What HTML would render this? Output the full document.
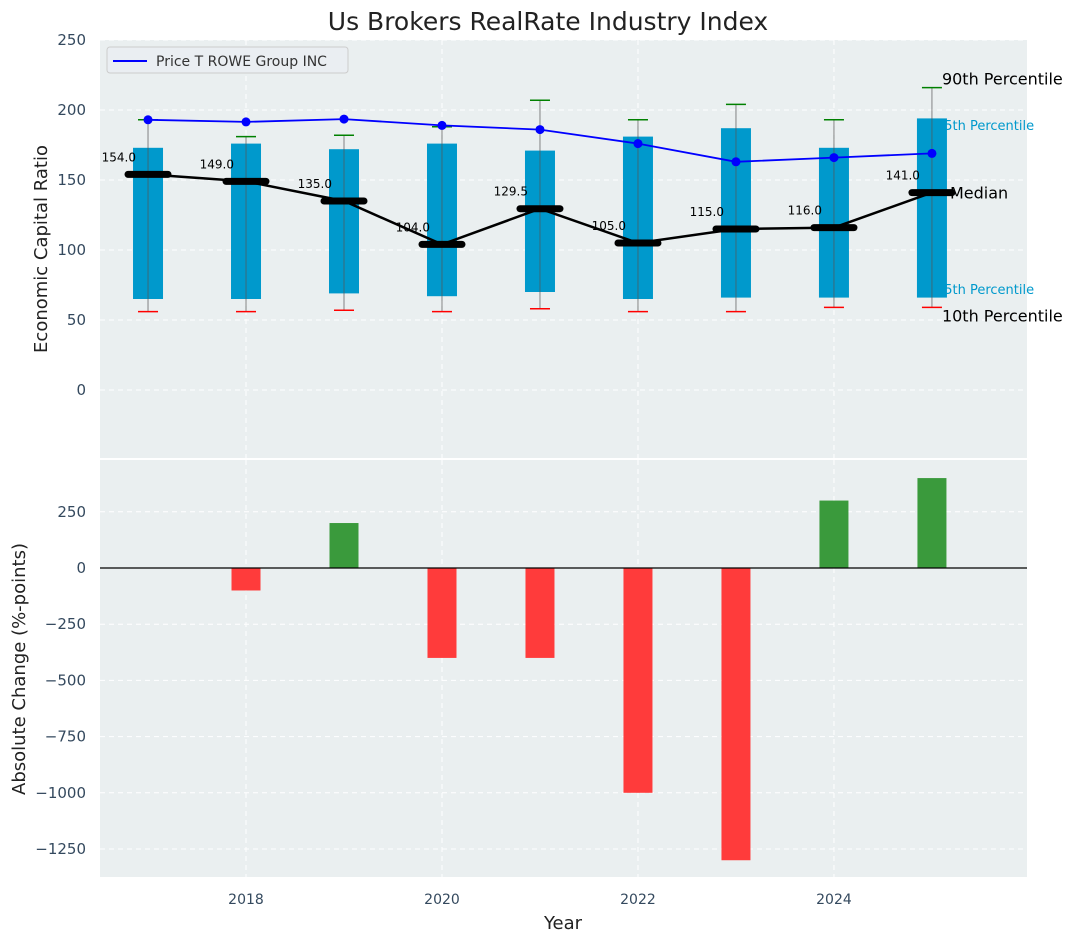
<!DOCTYPE html>
<html><head><meta charset="utf-8"><style>
body{margin:0;background:#fff;}
svg{display:block;font-family:"DejaVu Sans","Liberation Sans",sans-serif;}
</style></head><body>
<svg id="c" width="1077" height="942" viewBox="0 0 1077 942"></svg>
<script>
const years=[2017,2018,2019,2020,2021,2022,2023,2024,2025];
const p90=[193,181,182,188,207,193,204,193,216];
const p75=[173,176,172,176,171,181,187,173,194];
const medians=[154.0,149.0,135.0,104.0,129.5,105.0,115.0,116.0,141.0];
const p25=[65,65,69,67,70,65,66,66,66];
const p10=[56,56,57,56,58,56,56,59,59];
const company=[193,191.5,193.5,189,186,176,163,166,169];
const changes=[0,-100,200,-400,-400,-1000,-1300,300,400];
const topTicks=[0,50,100,150,200,250];
const botTicks=[-1250,-1000,-750,-500,-250,0,250];
const xTicks=[2018,2020,2022,2024];

const NS='http://www.w3.org/2000/svg';
const svg=document.getElementById('c');
function el(t,a,p){const e=document.createElementNS(NS,t);for(const k in a)e.setAttribute(k,a[k]);(p||svg).appendChild(e);return e;}
const L=100,R=1027;
const X=v=>L+(v-2016.51)/(2025.97-2016.51)*(R-L);
const Y1=v=>390-v*1.4;
const Y2=v=>568-v*0.2248;
const T1=40,B1=458,T2=460,B2=877;

let t=el('text',{x:548,y:30,'text-anchor':'middle','font-size':25,fill:'#222'});t.textContent='Us Brokers RealRate Industry Index';


let bg=el('rect',{x:L,y:T1,width:R-L,height:B1-T1,fill:'#eaeff0'});

let bg2=el('rect',{x:L,y:T2,width:R-L,height:B2-T2,fill:'#eaeff0'});


xTicks.forEach(v=>{
  let g=el('line',{x1:X(v),x2:X(v),y1:T1,y2:B1,stroke:'#fff','stroke-dasharray':'5,4','stroke-width':1});
  
  let g2=el('line',{x1:X(v),x2:X(v),y1:T2,y2:B2,stroke:'#fff','stroke-dasharray':'5,4','stroke-width':1});
  
  let tx=el('text',{x:X(v),y:904,'text-anchor':'middle','font-size':14,fill:'#34495e'});tx.textContent=v;
  
});
topTicks.forEach(v=>{
  let g=el('line',{x1:L,x2:R,y1:Y1(v),y2:Y1(v),stroke:'#fff','stroke-dasharray':'5,4','stroke-width':1});
  
  let tx=el('text',{x:86,y:Y1(v)+5,'text-anchor':'end','font-size':15,fill:'#34495e'});tx.textContent=v;
  
});
botTicks.forEach(v=>{
  let g=el('line',{x1:L,x2:R,y1:Y2(v),y2:Y2(v),stroke:'#fff','stroke-dasharray':'5,4','stroke-width':1});
  
  let tx=el('text',{x:86,y:Y2(v)+5,'text-anchor':'end','font-size':15,fill:'#34495e'});tx.textContent=String(v).replace('-','\u2212');
  
});

let yt=el('text',{x:0,y:0,transform:'translate(47,249) rotate(-90)','text-anchor':'middle','font-size':18,fill:'#222'});yt.textContent='Economic Capital Ratio';

let yt2=el('text',{x:0,y:0,transform:'translate(25,669) rotate(-90)','text-anchor':'middle','font-size':18,fill:'#222'});yt2.textContent='Absolute Change (%-points)';

let xt=el('text',{x:563,y:929,'text-anchor':'middle','font-size':18,fill:'#222'});xt.textContent='Year';


const last=years.length-1;
let a75=el('text',{x:X(years[last])+4,y:130,'font-size':13,fill:'#0099cc'});a75.textContent='75th Percentile';

let a25=el('text',{x:X(years[last])+4,y:294,'font-size':13,fill:'#0099cc'});a25.textContent='25th Percentile';


years.forEach((yr,i)=>{
  const x=X(yr);
  let b=el('rect',{x:x-15,y:Y1(p75[i]),width:30,height:Y1(p25[i])-Y1(p75[i]),fill:'#0099cc'});
  
  let w=el('line',{x1:x,x2:x,y1:Y1(p90[i]),y2:Y1(p10[i]),stroke:'#555','stroke-width':1,opacity:0.7});
  
  let g=el('line',{x1:x-10,x2:x+10,y1:Y1(p90[i]),y2:Y1(p90[i]),stroke:'green','stroke-width':1.5});
  
  let r=el('line',{x1:x-10,x2:x+10,y1:Y1(p10[i]),y2:Y1(p10[i]),stroke:'red','stroke-width':1.5});
  
});
let mp=years.map((yr,i)=>X(yr)+','+Y1(medians[i])).join(' ');
let ml=el('polyline',{points:mp,fill:'none',stroke:'#000','stroke-width':2.5});

years.forEach((yr,i)=>{
  const x=X(yr);
  let m=el('line',{x1:x-20,x2:x+20,y1:Y1(medians[i]),y2:Y1(medians[i]),stroke:'#000','stroke-width':7,'stroke-linecap':'round'});
  
  let tx=el('text',{x:x-12,y:Y1(medians[i])-13,'text-anchor':'end','font-size':12,fill:'#000'});tx.textContent=medians[i].toFixed(1);
  
});
let cp=years.map((yr,i)=>X(yr)+','+Y1(company[i])).join(' ');
let cl=el('polyline',{points:cp,fill:'none',stroke:'blue','stroke-width':1.8});

years.forEach((yr,i)=>{
  let c=el('circle',{cx:X(yr),cy:Y1(company[i]),r:4.5,fill:'blue'});
  
});
const ax=X(years[last]);
[['90th Percentile',ax+10,Y1(p90[last])-3,16,'p90-annotation'],['Median',ax+18,Y1(medians[last])+6,16,'median-annotation'],['10th Percentile',ax+10,Y1(p10[last])+14,16,'p10-annotation']].forEach(a=>{
  let tx=el('text',{x:a[1],y:a[2],'font-size':a[3],fill:'#000'});tx.textContent=a[0];
  
});

let lg=el('g',{});
el('rect',{x:107,y:47,width:241,height:26,rx:3,fill:'#eaeef2',stroke:'#ccc'},lg);
el('line',{x1:113,x2:147,y1:61,y2:61,stroke:'blue','stroke-width':2},lg);
let lt=el('text',{x:156,y:66,'font-size':14,fill:'#333'},lg);lt.textContent='Price T ROWE Group INC';

years.forEach((yr,i)=>{
  const v=changes[i];if(v===0)return;
  const y0=Y2(0),y1=Y2(v);
  let b=el('rect',{x:X(yr)-14.5,y:Math.min(y0,y1),width:29,height:Math.abs(y1-y0),fill:v>0?'#3a9a3c':'#ff3b3b'});
  
});
let zl=el('line',{x1:L,x2:R,y1:Y2(0),y2:Y2(0),stroke:'#000','stroke-width':1.2});

</script>
</body></html>
